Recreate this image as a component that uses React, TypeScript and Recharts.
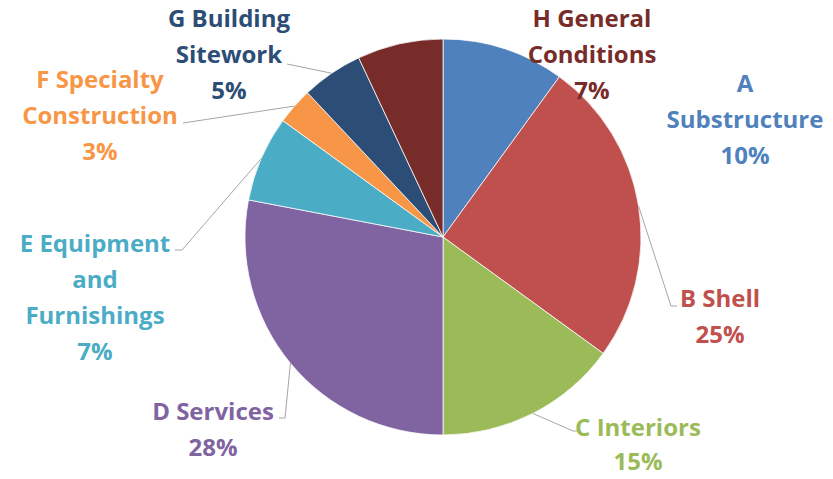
import { PieChart, Pie, Cell } from 'recharts';

if (typeof document !== 'undefined') document.body.style.margin = '0';

const categories = [
  'A Substructure',
  'B Shell',
  'C Interiors',
  'D Services',
  'E Equipment and Furnishings',
  'F Specialty Construction',
  'G Building Sitework',
  'H General Conditions',
];
const shares = [10, 25, 15, 28, 7, 3, 5, 7];
const labelLines = [
  ['A', 'Substructure'],
  ['B Shell'],
  ['C Interiors'],
  ['D Services'],
  ['E Equipment', 'and', 'Furnishings'],
  ['F Specialty', 'Construction'],
  ['G Building', 'Sitework'],
  ['H General', 'Conditions'],
];

const colors = ['#4F81BD', '#C0504D', '#9BBB59', '#8064A2', '#4BACC6', '#F79646', '#2C4D75', '#772C2A'];

// where each label block sits (centre x, first baseline) and its leader elbow
const labelLayout = [
  { x: 745, y: 92, lh: 36, leader: null },
  { x: 720, y: 307, lh: 36, leader: [[671, 306], [677, 306]] },
  { x: 638, y: 436, lh: 34, leader: [[573, 431], [578, 431]] },
  { x: 213, y: 420, lh: 36, leader: [[285, 418], [279, 418]] },
  { x: 95, y: 252, lh: 36, leader: [[182, 250], [175, 250]] },
  { x: 100, y: 88, lh: 36, leader: [[183, 123]] },
  { x: 229, y: 27, lh: 36, leader: [[287, 64]] },
  { x: 592, y: 27, lh: 36, leader: null },
];

const data = categories.map((name, i) => ({ name, value: shares[i] }));

function renderLabel(props: any) {
  const { index, percent } = props;
  const pos = labelLayout[index];
  const lines = [...labelLines[index], `${Math.round(percent * 100)}%`];
  return (
    <text
      key={`lbl-${index}`}
      x={pos.x}
      y={pos.y}
      textAnchor="middle"
      fill={colors[index]}
      style={{ fontFamily: '"Open Sans", sans-serif', fontWeight: 700, fontSize: 24 }}
    >
      {lines.map((l, j) => (
        <tspan key={j} x={pos.x} y={pos.y + j * pos.lh}>
          {l}
        </tspan>
      ))}
    </text>
  );
}

function renderLabelLine(props: any) {
  const { index, points } = props;
  const pos = labelLayout[index];
  if (!pos.leader || !points) return <g key={`ll-${index}`} />;
  const start = points[0];
  const pts = [[start.x, start.y], ...pos.leader].map(p => p.join(',')).join(' ');
  return <polyline key={`ll-${index}`} points={pts} fill="none" stroke="#A6A6A6" strokeWidth={1} />;
}

export default function App() {
  return (
    <div style={{ width: 833, height: 479, background: '#fff' }}>
      <PieChart width={833} height={479} margin={{ top: 0, right: 0, bottom: 0, left: 0 }}>
        <Pie
          data={data}
          dataKey="value"
          nameKey="name"
          cx={443}
          cy={237}
          outerRadius={198}
          startAngle={90}
          endAngle={-270}
          stroke="#ffffff"
          strokeWidth={0.75}
          label={renderLabel}
          labelLine={renderLabelLine}
          isAnimationActive={false}
        >
          {data.map((d, i) => (
            <Cell key={d.name} fill={colors[i]} />
          ))}
        </Pie>
      </PieChart>
    </div>
  );
}
